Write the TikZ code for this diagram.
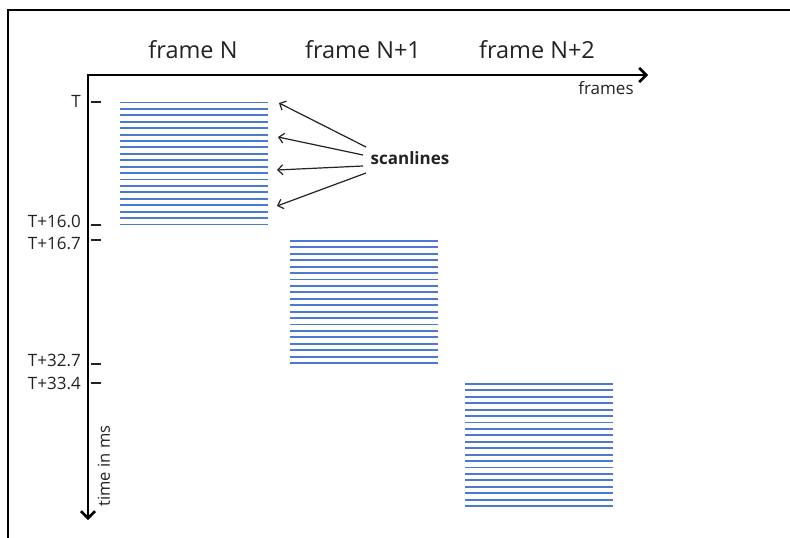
\documentclass[tikz,border=0pt]{standalone}
\usepackage{fontspec}
\setmainfont{Open Sans}
\usetikzlibrary{arrows.meta}
\definecolor{scanblue}{RGB}{76,122,210}
\definecolor{txt}{RGB}{34,34,34}
\tikzset{
  axis/.style={line width=2.6pt,line join=miter,{Straight Barb[length=7pt,width=14pt]}-{Straight Barb[length=7pt,width=14pt]}},
  tick/.style={line width=1.3pt,txt},
  ticklabel/.style={anchor=east,inner sep=0pt,text=txt,font=\fontsize{17}{19}\selectfont},
  framelabel/.style={inner sep=0pt,text=txt,font=\fontsize{23.5}{27}\selectfont},
  block/.style={minimum width=148pt,minimum height=122pt,inner sep=0pt,anchor=north west},
  scanline/.style={scanblue,line width=1.9pt},
  pointer/.style={line width=1.2pt,txt,-{Straight Barb[length=5pt,width=10pt]}},
}
\begin{document}
\begin{tikzpicture}[x=1pt,y=-1pt]
\useasboundingbox (0,0) rectangle (790,538);
% border (cropped screenshot frame)
\coordinate (bl) at (8,538);
\coordinate (tl) at (8,10);
\coordinate (tr) at (790,10);
\draw[line width=1.3pt] (bl) -- (tl) -- (tr);
% axes
\coordinate (O) at (88,75);
\coordinate (xend) at (648,75);
\coordinate (yend) at (88,520);
\draw[axis] (yend) -- (O) -- (xend);
\node[anchor=base,inner sep=0pt,text=txt,font=\fontsize{17}{19}\selectfont] (frames) at (606,94) {frames};
\node[rotate=90,inner sep=0pt,text=txt,font=\fontsize{16.5}{18}\selectfont] (time) at (104,466) {time in ms};
% frame labels
\node[framelabel] (lN) at (193,50) {frame N};
\node[framelabel] (lN1) at (363,50) {frame N+1};
\node[framelabel] (lN2) at (537,50) {frame N+2};
% ticks
\foreach \y/\ly/\lab/\nm in {102/101/T/t0,225/221.5/T+16.0/t1,240/243.5/T+16.7/t2,364/360.5/T+32.7/t3,383/383/T+33.4/t4}{
  \coordinate (\nm a) at (91,\y);
  \coordinate (\nm b) at (101,\y);
  \draw[tick] (\nm a) -- (\nm b);
  \node[ticklabel] (\nm l) at (81,\ly) {\lab};
}
% scanline blocks
\foreach \x/\y/\nm in {120/102.5/fN,290/241/fNa,465/384/fNb}{
  \node[block] (\nm) at (\x,\y-1) {};
  \foreach \i in {0,...,19}{
    \draw[scanline] (\x,\y+\i*6.42) -- (\x+148,\y+\i*6.42);
  }
}
% scanlines label and pointers
\node[inner sep=0pt,text=txt,font=\bfseries\fontsize{17}{20}\selectfont] (scan) at (410,158) {scanlines};
\coordinate (s1) at (366,147);
\coordinate (s2) at (363,155);
\coordinate (s3) at (363,166);
\coordinate (s4) at (366,173);
\coordinate (e1) at (279,103);
\coordinate (e2) at (278,137);
\coordinate (e3) at (277,170);
\coordinate (e4) at (277,206);
\foreach \k in {1,2,3,4}{
  \draw[pointer] (s\k) -- (e\k);
}
\end{tikzpicture}
\end{document}
